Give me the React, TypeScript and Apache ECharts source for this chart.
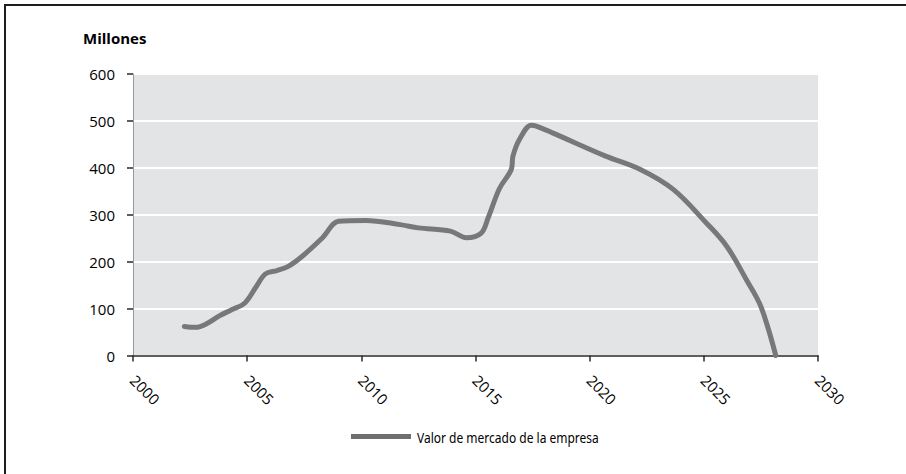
import React, { useEffect, useRef } from "react";
import * as echarts from "echarts";

// Market value of the company, in millions, by (fractional) year
const years = [
  2002.25, 2002.75, 2003.2, 2003.8, 2004.3, 2004.9, 2005.4, 2005.8, 2006.3, 2006.8,
  2007.4, 2008.3, 2009.0, 2010.2, 2011.7, 2012.5, 2013.9, 2014.6, 2015.25, 2015.55,
  2016.05, 2016.57, 2016.64, 2016.93, 2017.44, 2017.66, 2018.4, 2020.7, 2022.2,
  2023.66, 2025.1, 2026.0, 2026.87, 2027.5, 2028.15,
];
const marketValue = [
  62, 60, 67, 85, 97, 112, 147, 174, 181, 190,
  211, 251, 286, 288, 279, 272, 265, 251, 261, 293,
  356, 397, 425, 461, 491, 489, 474, 425, 397,
  354, 283, 233, 161, 104, 0,
];
const yTicks = [0, 100, 200, 300, 400, 500, 600];
const xTicks = [2000, 2005, 2010, 2015, 2020, 2025, 2030];

const seriesName = "Valor de mercado de la empresa";
const yTitle = "Millones";

export default function App() {
  const ref = useRef<HTMLDivElement>(null);

  useEffect(() => {
    if (!ref.current) return;
    const chart = echarts.init(ref.current, undefined, { renderer: "svg" });
    const font = "'Open Sans', 'Noto Sans', sans-serif";

    chart.setOption({
      animation: false,
      backgroundColor: "#ffffff",
      textStyle: { fontFamily: font },
      grid: {
        left: 133,
        top: 74,
        right: 88,
        bottom: 118.5,
        show: true,
        backgroundColor: "#e3e4e6",
        borderWidth: 0,
      },
      // legend swatch only; its caption is drawn condensed below
      legend: {
        left: 346,
        top: 429,
        icon: "rect",
        itemWidth: 60,
        itemHeight: 5,
        itemGap: 0,
        formatter: () => "",
        data: [seriesName],
      },
      xAxis: {
        type: "value",
        min: xTicks[0],
        max: xTicks[xTicks.length - 1],
        interval: 5,
        axisLine: { show: true, lineStyle: { color: "#2a2a2a", width: 1.5 } },
        axisTick: { show: true, length: 6, lineStyle: { color: "#2a2a2a", width: 1.5 } },
        splitLine: { show: false },
        axisLabel: {
          rotate: -45,
          margin: 22,
          fontSize: 15,
          color: "#000000",
          fontFamily: font,
          formatter: (v: number) => (xTicks.includes(v) ? String(v) : ""),
        },
      },
      yAxis: {
        type: "value",
        min: yTicks[0],
        max: yTicks[yTicks.length - 1],
        interval: 100,
        axisLine: { show: true, lineStyle: { color: "#9a9a9a", width: 1 } },
        axisTick: { show: true, length: 6, lineStyle: { color: "#2a2a2a", width: 1.5 } },
        splitLine: { show: true, lineStyle: { color: "#ffffff", width: 2 } },
        axisLabel: {
          margin: 18,
          fontSize: 15,
          color: "#000000",
          fontFamily: font,
          formatter: (v: number) => (yTicks.includes(v) ? String(v) : ""),
        },
      },
      series: [
        {
          name: seriesName,
          type: "line",
          data: years.map((y, i) => [y, marketValue[i]]),
          smooth: 0.35,
          showSymbol: false,
          lineStyle: { color: "#787878", width: 5, cap: "round" },
          itemStyle: { color: "#6e6e6e" },
          z: 3,
        },
      ],
      graphic: [
        {
          type: "rect",
          shape: { x: 5, y: 5, width: 940, height: 520 },
          style: { fill: "none", stroke: "#1e1e1e", lineWidth: 2 },
          silent: true,
        },
        {
          type: "text",
          left: 83,
          top: 30,
          style: {
            text: yTitle,
            fontFamily: font,
            fontWeight: "bold",
            fontSize: 15,
            fill: "#000000",
          },
        },
        {
          type: "text",
          x: 417,
          y: 437,
          scaleX: 0.8,
          style: {
            text: seriesName,
            fontFamily: "'Noto Sans', sans-serif",
            fontSize: 15,
            fill: "#000000",
            verticalAlign: "middle",
            align: "left",
          },
        },
      ],
    });

    return () => chart.dispose();
  }, []);

  return (
    <div
      ref={ref}
      style={{ position: "fixed", left: 0, top: 0, width: 906, height: 474 }}
    />
  );
}
